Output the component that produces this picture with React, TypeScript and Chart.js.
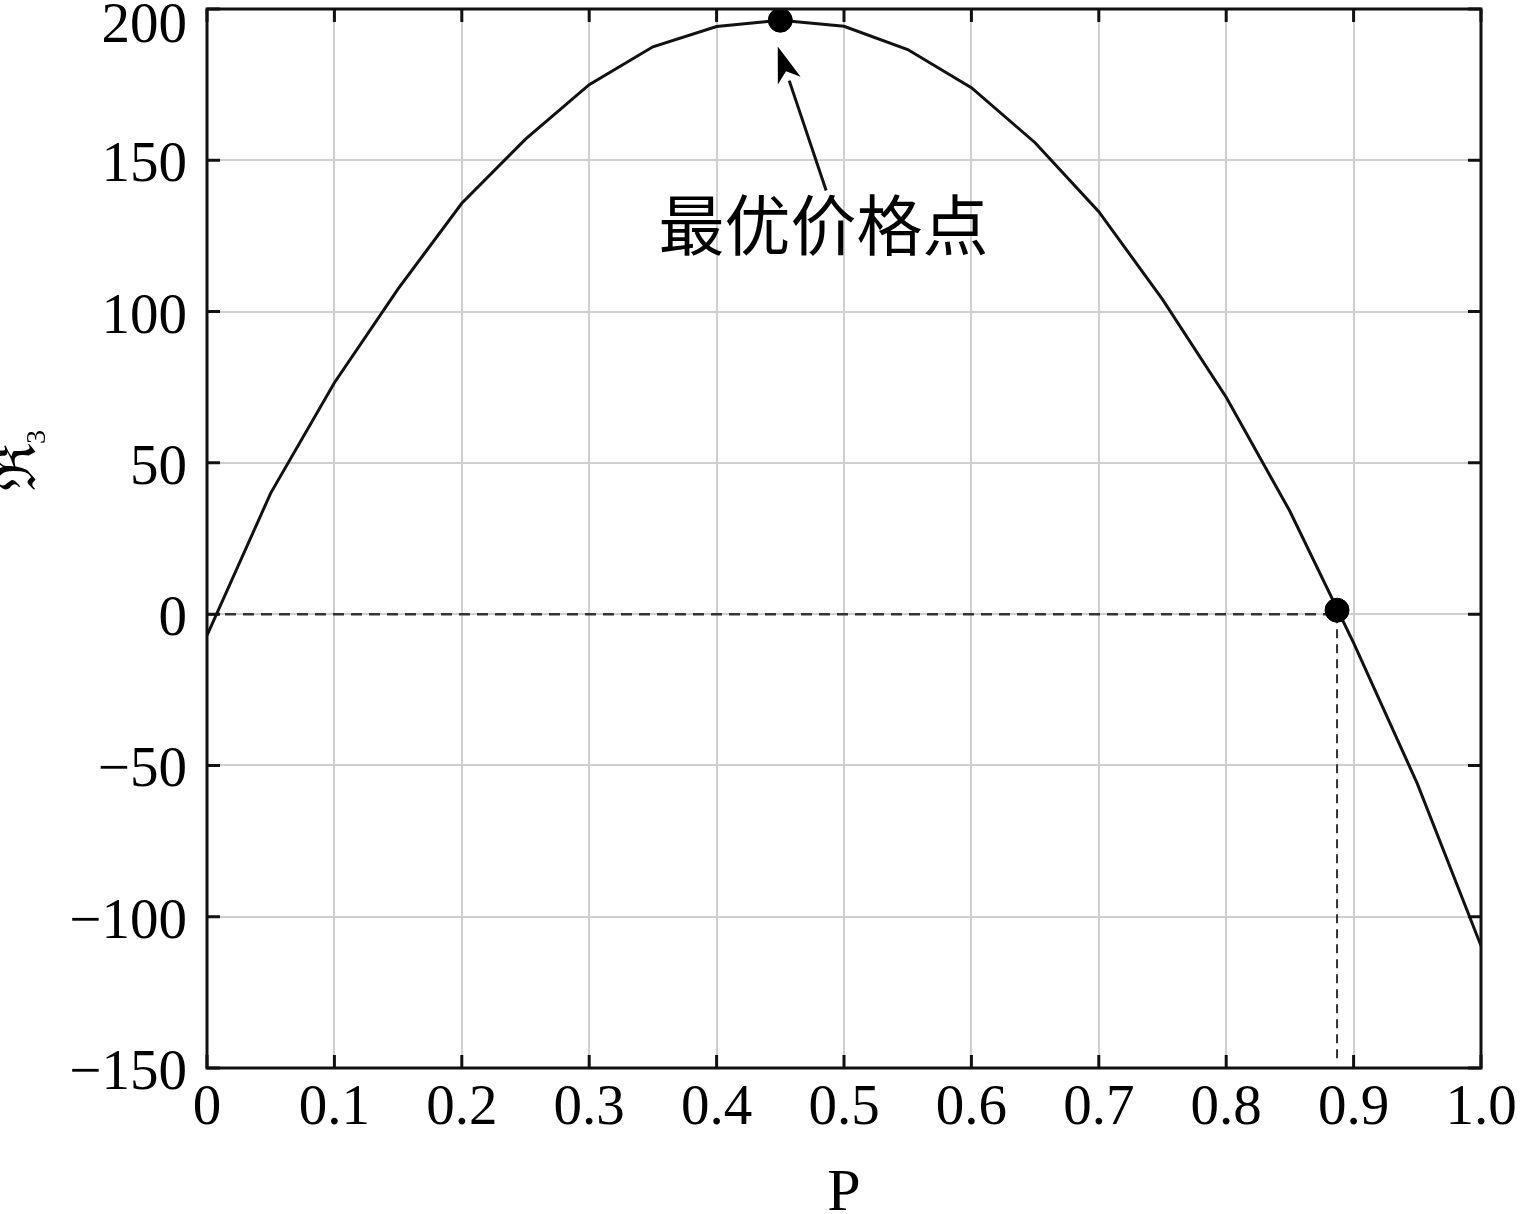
import React, { useEffect, useRef } from "react";
import { Chart, registerables } from "chart.js";

Chart.register(...registerables);

// ---- data ----
const P_VALUES = [0, 0.05, 0.1, 0.15, 0.2, 0.25, 0.3, 0.35, 0.4, 0.45, 0.5, 0.55, 0.6, 0.65, 0.7, 0.75, 0.8, 0.85, 0.9, 0.95, 1.0];
const R3_VALUES = [-7, 40, 76.5, 107.5, 135.8, 157, 175, 187.5, 194.2, 196.3, 194.3, 186.6, 174, 155.8, 133, 104, 71.7, 34, -9.5, -56, -109.6];

const OPTIMAL_P = [0.45];
const OPTIMAL_R = [196.3];
const BREAKEVEN_P = [0.887];
const BREAKEVEN_R = [1.3];

const ZERO_LINE_P = [0, 0.887];
const ZERO_LINE_R = [0, 0];
const DROP_LINE_P = [0.887, 0.887];
const DROP_LINE_R = [0, -148];

const X_TICKS = [0, 0.1, 0.2, 0.3, 0.4, 0.5, 0.6, 0.7, 0.8, 0.9, 1.0];
const Y_TICKS = [-150, -100, -50, 0, 50, 100, 150, 200];

const ANNOTATION_TEXT = "最优价格点";
const ARROW_TAIL = [0.486, 140];
const ARROW_TIP = [0.448, 187.6];
const LABEL_AT = [0.484, 128.5];

const X_TITLE = "P";
const Y_TITLE_MAIN = "ℜ";
const Y_TITLE_SUB = "3";

const SERIF = "'Liberation Serif', 'DejaVu Serif', serif";

const zip = (xs: number[], ys: number[]) => xs.map((x, i) => ({ x, y: ys[i] }));

const framePlugin = {
  id: "frame",
  afterDraw(chart: any) {
    const { ctx, chartArea, scales } = chart;
    const { left, right, top, bottom } = chartArea;
    const xs = scales.x;
    const ys = scales.y;
    ctx.save();
    // inward ticks
    ctx.strokeStyle = "#111";
    ctx.lineWidth = 3;
    const tl = 13;
    X_TICKS.forEach((v) => {
      const px = xs.getPixelForValue(v);
      ctx.beginPath();
      ctx.moveTo(px, bottom);
      ctx.lineTo(px, bottom - tl);
      ctx.moveTo(px, top);
      ctx.lineTo(px, top + tl);
      ctx.stroke();
    });
    Y_TICKS.forEach((v) => {
      const py = ys.getPixelForValue(v);
      ctx.beginPath();
      ctx.moveTo(left, py);
      ctx.lineTo(left + tl, py);
      ctx.moveTo(right, py);
      ctx.lineTo(right - tl, py);
      ctx.stroke();
    });
    // frame
    ctx.lineWidth = 3;
    ctx.strokeStyle = "#111";
    ctx.strokeRect(left, top, right - left, bottom - top);

    // arrow annotation
    const tx = xs.getPixelForValue(ARROW_TAIL[0]);
    const ty = ys.getPixelForValue(ARROW_TAIL[1]);
    const hx = xs.getPixelForValue(ARROW_TIP[0]);
    const hy = ys.getPixelForValue(ARROW_TIP[1]);
    const ang = Math.atan2(hy - ty, hx - tx);
    const headLen = 36;
    const headHalf = 12;
    const bx = hx - headLen * Math.cos(ang);
    const by = hy - headLen * Math.sin(ang);
    ctx.strokeStyle = "#111";
    ctx.lineWidth = 3;
    ctx.beginPath();
    ctx.moveTo(tx, ty);
    ctx.lineTo(bx, by);
    ctx.stroke();
    ctx.fillStyle = "#000";
    ctx.beginPath();
    ctx.moveTo(hx, hy);
    ctx.lineTo(bx + headHalf * Math.sin(ang), by - headHalf * Math.cos(ang));
    ctx.lineTo(hx - (headLen - 10) * Math.cos(ang), hy - (headLen - 10) * Math.sin(ang));
    ctx.lineTo(bx - headHalf * Math.sin(ang), by + headHalf * Math.cos(ang));
    ctx.closePath();
    ctx.fill();

    // annotation text
    ctx.fillStyle = "#000";
    ctx.font = "66px 'Noto Sans CJK SC', sans-serif";
    ctx.textAlign = "center";
    ctx.textBaseline = "middle";
    ctx.fillText(ANNOTATION_TEXT, xs.getPixelForValue(LABEL_AT[0]), ys.getPixelForValue(LABEL_AT[1]));

    // y tick labels
    ctx.font = `57px ${SERIF}`;
    ctx.textAlign = "right";
    ctx.textBaseline = "middle";
    Y_TICKS.forEach((v) => {
      const py = Math.max(ys.getPixelForValue(v) + 6, 27);
      const label = v < 0 ? "\u2212" + Math.abs(v) : String(v);
      ctx.fillText(label, left - 20, py);
    });

    // x title
    ctx.font = `60px ${SERIF}`;
    ctx.textAlign = "center";
    ctx.textBaseline = "alphabetic";
    ctx.fillText(X_TITLE, (left + right) / 2, 1210);

    // y title (rotated, with subscript)
    ctx.save();
    ctx.translate(20, 467);
    ctx.rotate(-Math.PI / 2);
    ctx.font = `56px 'DejaVu Serif', serif`;
    ctx.textAlign = "center";
    ctx.textBaseline = "middle";
    const w = ctx.measureText(Y_TITLE_MAIN).width;
    ctx.fillText(Y_TITLE_MAIN, 0, 0);
    ctx.font = `28px ${SERIF}`;
    ctx.fillText(Y_TITLE_SUB, w / 2 + 6, 18);
    ctx.restore();

    ctx.restore();
  },
};

export default function App() {
  const canvasRef = useRef<HTMLCanvasElement | null>(null);

  useEffect(() => {
    document.body.style.margin = "0";
    const canvas = canvasRef.current;
    if (!canvas) return;
    const chart = new Chart(canvas, {
      type: "scatter",
      data: {
        datasets: [
          {
            label: "curve",
            data: zip(P_VALUES, R3_VALUES),
            showLine: true,
            borderColor: "#111",
            borderWidth: 3,
            pointRadius: 0,
            tension: 0,
            order: 3,
          },
          {
            label: "zero",
            data: zip(ZERO_LINE_P, ZERO_LINE_R),
            showLine: true,
            borderColor: "#333",
            borderWidth: 2.5,
            borderDash: [11, 7],
            pointRadius: 0,
            order: 4,
          },
          {
            label: "drop",
            data: zip(DROP_LINE_P, DROP_LINE_R),
            showLine: true,
            borderColor: "#333",
            borderWidth: 2,
            borderDash: [9, 6],
            pointRadius: 0,
            order: 4,
          },
          {
            label: "optimal",
            data: zip(OPTIMAL_P, OPTIMAL_R),
            pointRadius: 12,
            pointBackgroundColor: "#000",
            pointBorderColor: "#000",
            order: 1,
          },
          {
            label: "breakeven",
            data: zip(BREAKEVEN_P, BREAKEVEN_R),
            pointRadius: 12,
            pointBackgroundColor: "#000",
            pointBorderColor: "#000",
            order: 1,
          },
        ],
      },
      options: {
        responsive: false,
        animation: false,
        layout: { autoPadding: false, padding: { top: 9, right: 40, left: 0, bottom: 0 } },
        plugins: {
          legend: { display: false },
          tooltip: { enabled: false },
        },
        scales: {
          x: {
            type: "linear",
            min: 0,
            max: 1,
            afterBuildTicks: (scale: any) => {
              scale.ticks = X_TICKS.map((v) => ({ value: v }));
            },
            ticks: {
              color: "#000",
              font: { family: SERIF, size: 57 },
              padding: 7,
              maxRotation: 0,
              autoSkip: false,
              callback: (v: any) => (v === 0 ? "0" : Number(v).toFixed(1)),
            },
            grid: { color: "#cfcfcf", lineWidth: 2, drawTicks: false },
            border: { display: false },
            afterFit: (scale: any) => {
              scale.height = 146;
              scale.paddingLeft = 0;
              scale.paddingRight = 0;
            },
          },
          y: {
            type: "linear",
            min: -150,
            max: 200,
            afterBuildTicks: (scale: any) => {
              scale.ticks = Y_TICKS.map((v) => ({ value: v }));
            },
            ticks: { display: false },
            grid: { color: "#cfcfcf", lineWidth: 2, drawTicks: false },
            border: { display: false },
            afterFit: (scale: any) => {
              scale.width = 207;
              scale.paddingTop = 0;
              scale.paddingBottom = 0;
            },
          },
        },
      },
      plugins: [framePlugin],
    } as any);
    return () => chart.destroy();
  }, []);

  return (
    <div style={{ width: 1521, height: 1214, background: "#fff" }}>
      <canvas ref={canvasRef} width={1521} height={1214} style={{ display: "block" }} />
    </div>
  );
}
